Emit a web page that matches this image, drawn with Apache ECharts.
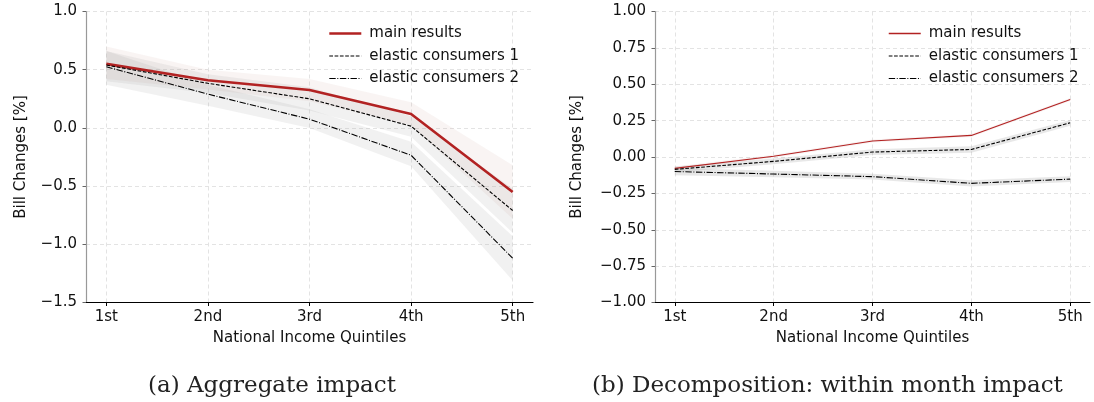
<!DOCTYPE html>
<html>
<head>
<meta charset="utf-8">
<script src="https://cdn.jsdelivr.net/npm/echarts@6/dist/echarts.min.js"></script>
<style>
html,body{margin:0;padding:0;background:#fff;}
#chart{width:1094px;height:402px;}
</style>
</head>
<body>
<div id="chart"></div>
<script>
// ---------- data ----------
const categories = ['1st', '2nd', '3rd', '4th', '5th'];
const seriesNames = ['main results', 'elastic consumers 1', 'elastic consumers 2'];
const captions = ['(a) Aggregate impact', '(b) Decomposition: within month impact'];
const yTicksAgg = [-1.5, 1.0, 0.5];      // min, max, interval
const yTicksDec = [-1.0, 1.0, 0.25];

// (a) Aggregate impact
const aggMain     = [0.55, 0.41, 0.325, 0.12, -0.55];
const aggElastic1 = [0.54, 0.383, 0.25, 0.015, -0.71];
const aggElastic2 = [0.525, 0.29, 0.075, -0.235, -1.12];
const aggMainLo   = [0.42, 0.33, 0.23, 0.02, -0.78];
const aggMainHi   = [0.70, 0.50, 0.42, 0.22, -0.32];
const aggE1Lo     = [0.40, 0.30, 0.15, -0.075, -0.90];
const aggE1Hi     = [0.66, 0.46, 0.35, 0.10, -0.52];
const aggE2Lo     = [0.37, 0.19, 0.00, -0.33, -1.31];
const aggE2Hi     = [0.66, 0.37, 0.16, -0.12, -0.93];

// (b) Decomposition: within month impact
const decMain     = [-0.078, 0.005, 0.11, 0.148, 0.395];
const decElastic1 = [-0.085, -0.03, 0.034, 0.052, 0.235];
const decElastic2 = [-0.10, -0.117, -0.135, -0.181, -0.152];
const decMainLo   = [-0.09, -0.005, 0.10, 0.138, 0.385];
const decMainHi   = [-0.066, 0.015, 0.12, 0.158, 0.405];
const decE1Lo     = [-0.105, -0.05, 0.014, 0.030, 0.215];
const decE1Hi     = [-0.065, -0.01, 0.054, 0.074, 0.255];
const decE2Lo     = [-0.125, -0.14, -0.155, -0.203, -0.172];
const decE2Hi     = [-0.075, -0.095, -0.115, -0.159, -0.132];

// ---------- chart ----------
const FONT = 'DejaVu Sans';
const FS = 15;
const RED = '#b22222';
const chart = echarts.init(document.getElementById('chart'), null, {renderer: 'canvas'});
const idx = categories.map((c, i) => i);

function pairs(vals) { return vals.map((v, i) => [i, v]); }
function minusFmt(d) { return v => (v < 0 ? '\u2212' : '') + Math.abs(v).toFixed(d); }

function band(gi, lo, hi, color) {
  return {
    type: 'custom', xAxisIndex: gi, yAxisIndex: gi, silent: true, z: 1,
    data: [[0, lo[0]]],
    renderItem: function (params, api) {
      const pts = [];
      for (let i = 0; i < hi.length; i++) pts.push(api.coord([i, hi[i]]));
      for (let i = lo.length - 1; i >= 0; i--) pts.push(api.coord([i, lo[i]]));
      return {type: 'polygon', shape: {points: pts}, style: {fill: color}};
    }
  };
}
function line(gi, name, vals, style) {
  return {
    type: 'line', name: name, xAxisIndex: gi, yAxisIndex: gi, z: 3,
    data: pairs(vals), symbol: 'none', animation: false,
    itemStyle: {color: style.color},
    lineStyle: style
  };
}

const DASH = [3.7, 1.6];
const DASHDOT = [6.4, 1.6, 1, 1.6];

function xAxis(gi) {
  return {
    type: 'value', gridIndex: gi, min: -0.2, max: 4.2,
    name: 'National Income Quintiles', nameLocation: 'middle', nameGap: 28,
    nameTextStyle: {fontFamily: FONT, fontSize: FS, color: '#111'},
    axisLine: {show: true, onZero: false, lineStyle: {color: '#000', width: 1.2}},
    axisTick: {show: true, inside: false, length: 3.5, customValues: idx, lineStyle: {color: '#000', width: 1}},
    axisLabel: {customValues: idx, margin: 7, fontFamily: FONT, fontSize: FS, color: '#111',
      formatter: v => categories[Math.round(v)]},
    splitLine: {show: true, lineStyle: {color: '#e3e3e3', type: [4, 3], width: 1}}
  };
}
function yAxis(gi, t, d, gap) {
  return {
    type: 'value', gridIndex: gi, min: t[0], max: t[1], interval: t[2],
    name: 'Bill Changes [%]', nameLocation: 'middle', nameGap: gap, nameRotate: 90,
    nameTextStyle: {fontFamily: FONT, fontSize: FS, color: '#111'},
    axisLine: {show: true, onZero: false, lineStyle: {color: '#999', width: 1.2}},
    axisTick: {show: true, inside: false, length: 3.5, lineStyle: {color: '#666', width: 1}},
    axisLabel: {margin: 9, fontFamily: FONT, fontSize: FS, color: '#111', formatter: minusFmt(d)},
    splitLine: {show: true, lineStyle: {color: '#e3e3e3', type: [4, 3], width: 1}}
  };
}
const HIDE_SYMBOL = {color: 'rgba(0,0,0,0)', borderColor: 'rgba(0,0,0,0)', borderWidth: 0, opacity: 0};
function legend(left, redWidth) {
  return {
    orient: 'vertical', left: left, top: 20, itemWidth: 32, itemHeight: 14, itemGap: 5.5,
    selectedMode: false,
    textStyle: {fontFamily: FONT, fontSize: FS, color: '#111', padding: [0, 0, 0, 3], lineHeight: 17},
    data: [
      {name: seriesNames[0], itemStyle: HIDE_SYMBOL, lineStyle: {color: RED, width: redWidth, type: 'solid', opacity: 1}},
      {name: seriesNames[1], itemStyle: HIDE_SYMBOL, lineStyle: {color: '#000', width: 1.1, type: DASH}},
      {name: seriesNames[2], itemStyle: HIDE_SYMBOL, lineStyle: {color: '#000', width: 1.1, type: DASHDOT}}
    ]
  };
}

const option = {
  backgroundColor: '#fff',
  animation: false,
  grid: [
    {left: 86, top: 11.5, width: 447, height: 291},
    {left: 655, top: 11.5, width: 435, height: 291}
  ],
  xAxis: [xAxis(0), xAxis(1)],
  yAxis: [yAxis(0, yTicksAgg, 1, 57), yAxis(1, yTicksDec, 2, 70)],
  legend: [legend(323, 2.6), legend(883, 1.5)],
  graphic: [
    {type: 'text', left: 148, top: 375, style: {text: captions[0], font: '23px "DejaVu Serif"', fill: '#222'}},
    {type: 'text', left: 592, top: 375, style: {text: captions[1], font: '23px "DejaVu Serif"', fill: '#222'}}
  ],
  series: [
    band(0, aggMainLo, aggMainHi, 'rgba(205,170,165,0.13)'),
    band(0, aggE1Lo, aggE1Hi, 'rgba(160,160,160,0.15)'),
    band(0, aggE2Lo, aggE2Hi, 'rgba(160,160,160,0.15)'),
    line(0, seriesNames[0], aggMain, {color: RED, width: 2.6}),
    line(0, seriesNames[1], aggElastic1, {color: '#000', width: 1.1, type: DASH}),
    line(0, seriesNames[2], aggElastic2, {color: '#000', width: 1.1, type: DASHDOT}),
    band(1, decMainLo, decMainHi, 'rgba(205,170,165,0.15)'),
    band(1, decE1Lo, decE1Hi, 'rgba(150,150,150,0.22)'),
    band(1, decE2Lo, decE2Hi, 'rgba(150,150,150,0.22)'),
    line(1, seriesNames[0], decMain, {color: RED, width: 1.2}),
    line(1, seriesNames[1], decElastic1, {color: '#000', width: 1.1, type: DASH}),
    line(1, seriesNames[2], decElastic2, {color: '#000', width: 1.1, type: DASHDOT})
  ]
};
chart.setOption(option);
</script>
</body>
</html>
